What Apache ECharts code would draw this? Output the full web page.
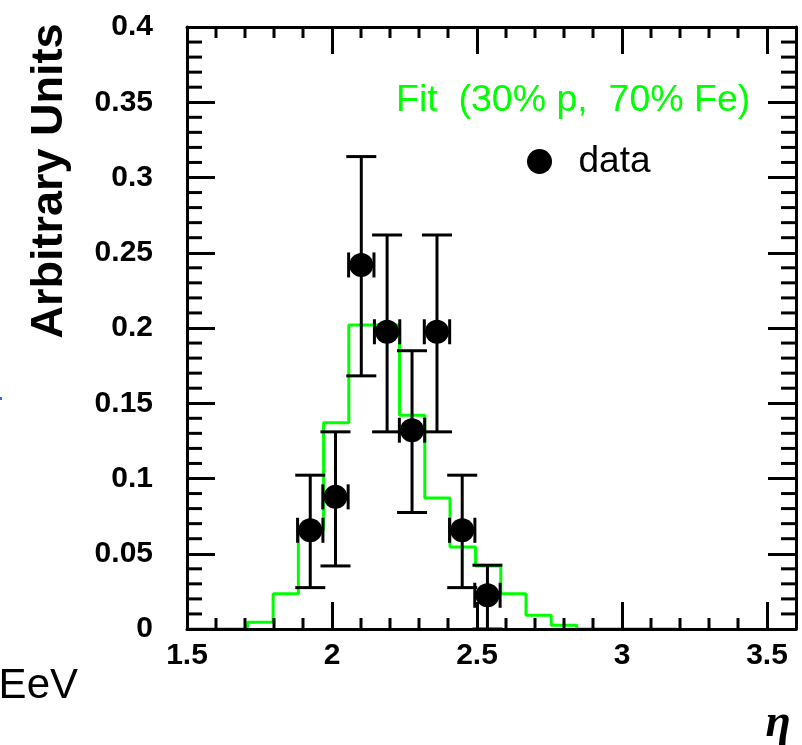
<!DOCTYPE html>
<html><head><meta charset="utf-8">
<script src="https://cdn.jsdelivr.net/npm/echarts@6/dist/echarts.min.js"></script>
<style>html,body{margin:0;padding:0;background:#fff}#c{width:802px;height:745px}</style>
</head><body><div id="c"></div>
<script>
// ---- data ----
const fitName = 'Fit  (30% p,  70% Fe)';
const dataName = 'data';
const yTitle = 'Arbitrary Units';
const xTitle = 'η';
const cornerNote = 'EeV';
// fit histogram: bin low edges (+ last high edge) and contents
const fitEdges = [1.709, 1.797, 1.884, 1.971, 2.058, 2.146, 2.233, 2.320, 2.407, 2.495, 2.582, 2.669, 2.756, 2.844];
const fitValues = [0.0045, 0.0235, 0.0656, 0.137, 0.202, 0.202, 0.1421, 0.0871, 0.0545, 0.0419, 0.0235, 0.0091, 0.0025];
const fitRange = [1.5, 3.19];
// data points with errors
const dataX = [1.925, 2.012, 2.101, 2.190, 2.276, 2.362, 2.449, 2.536];
const dataY = [0.0656, 0.0878, 0.2419, 0.1975, 0.1321, 0.1975, 0.0656, 0.0224];
const dataLow = [0.0275, 0.0419, 0.1682, 0.131, 0.0774, 0.131, 0.0275, 0];
const dataHigh = [0.1022, 0.131, 0.3139, 0.2618, 0.1849, 0.2618, 0.1022, 0.0424];
const dataXHalfWidth = 0.0437;
// axes
const xRange = [1.5, 3.6], xMajor = 0.5, xMinor = 0.1;
const yRange = [0, 0.4], yMajor = 0.05, yMinor = 0.01;

// ---- build ----
const fitPoints = [[fitRange[0], 0]];
for (let i = 0; i < fitValues.length; i++) fitPoints.push([fitEdges[i], fitValues[i]]);
fitPoints.push([fitEdges[fitEdges.length - 1], 0]);
fitPoints.push([fitRange[1], 0]);

const errData = dataX.map((x, i) => [x, dataY[i], dataLow[i], dataHigh[i]]);
const ptData = dataX.map((x, i) => [x, dataY[i]]);

// minor tick positions (axis decoration): [value, 0 = x-axis | 1 = y-axis]
const minorTickData = [];
for (let k = Math.round(xRange[0] / xMinor) + 1; k * xMinor < xRange[1] - 1e-9; k++) {
  if (k % 5 !== 0) minorTickData.push([+(k * xMinor).toFixed(2), 0]);
}
for (let k = 1; k * yMinor < yRange[1] - 1e-9; k++) {
  if (k % 5 !== 0) minorTickData.push([+(k * yMinor).toFixed(3), 1]);
}

const FONT = '"Liberation Sans", Arial, Helvetica, sans-serif';
const tickLabel = { color: '#000', fontFamily: FONT, fontWeight: 'bold', fontSize: 30 };
const black = { color: '#000', width: 3 };

function ax(position, range, step, len, label) {
  return {
    type: 'value', position: position, min: range[0], max: range[1], interval: step,
    axisLine: { show: true, onZero: false, lineStyle: black },
    axisTick: { show: true, inside: true, length: len, lineStyle: black },
    axisLabel: label ? label : { show: false },
    splitLine: { show: false }
  };
}

const chart = echarts.init(document.getElementById('c'), null, { renderer: 'canvas' });
chart.setOption({
  animation: false,
  backgroundColor: '#fff',
  grid: { left: 187, right: 6, top: 27, bottom: 116, containLabel: false, outerBoundsMode: 'none' },
  xAxis: [
    ax('bottom', xRange, xMajor, 27, Object.assign({ margin: 12, showMaxLabel: false }, tickLabel)),
    ax('top', xRange, xMajor, 27, null)
  ],
  yAxis: [
    ax('left', yRange, yMajor, 28, Object.assign({ margin: 34, padding: [0, 0, 7, 0] }, tickLabel)),
    ax('right', yRange, yMajor, 28, null)
  ],
  legend: [
    { data: [{ name: fitName, icon: 'none' }], left: 386, top: 77, itemWidth: 0, itemHeight: 20,
      selectedMode: false, textStyle: { color: '#00ff00', fontSize: 37.5, fontFamily: FONT } },
    { data: [{ name: dataName, icon: 'circle' }], left: 522, top: 138, itemWidth: 68, itemHeight: 25,
      selectedMode: false, textStyle: { color: '#000', fontSize: 37, fontFamily: FONT } }
  ],
  series: [
    { name: fitName, type: 'line', step: 'end', data: fitPoints, showSymbol: false, symbol: 'none',
      lineStyle: { color: '#00ff00', width: 3 }, itemStyle: { color: '#00ff00' }, z: -1, silent: true },
    { name: 'minorTicks', type: 'custom', data: minorTickData, z: 2, silent: true, clip: false,
      renderItem: function (params, api) {
        const v = api.value(0), kind = api.value(1);
        const st = { stroke: '#000', lineWidth: 3 };
        if (kind === 0) {
          const b = api.coord([v, yRange[0]]), t = api.coord([v, yRange[1]]);
          return { type: 'group', children: [
            { type: 'line', shape: { x1: b[0], y1: b[1], x2: b[0], y2: b[1] - 11 }, style: st },
            { type: 'line', shape: { x1: t[0], y1: t[1], x2: t[0], y2: t[1] + 11 }, style: st }
          ] };
        }
        const l = api.coord([xRange[0], v]), r = api.coord([xRange[1], v]);
        return { type: 'group', children: [
          { type: 'line', shape: { x1: l[0], y1: l[1], x2: l[0] + 15, y2: l[1] }, style: st },
          { type: 'line', shape: { x1: r[0], y1: r[1], x2: r[0] - 15, y2: r[1] }, style: st }
        ] };
      }
    },
    { name: 'errors', type: 'custom', data: errData, encode: { x: 0, y: [1, 2, 3] }, z: 3, silent: true,
      renderItem: function (params, api) {
        const x = api.value(0), y = api.value(1), lo = api.value(2), hi = api.value(3);
        const pLo = api.coord([x, lo]), pHi = api.coord([x, hi]);
        const pL = api.coord([x - dataXHalfWidth, y]), pR = api.coord([x + dataXHalfWidth, y]);
        const cap = 15, tk = 12.5;
        const st = { stroke: '#000', lineWidth: 3 };
        return { type: 'group', children: [
          { type: 'line', shape: { x1: pLo[0], y1: pLo[1], x2: pHi[0], y2: pHi[1] }, style: st },
          { type: 'line', shape: { x1: pHi[0] - cap, y1: pHi[1], x2: pHi[0] + cap, y2: pHi[1] }, style: st },
          { type: 'line', shape: { x1: pLo[0] - cap, y1: pLo[1], x2: pLo[0] + cap, y2: pLo[1] }, style: st },
          { type: 'line', shape: { x1: pL[0], y1: pL[1], x2: pR[0], y2: pR[1] }, style: st },
          { type: 'line', shape: { x1: pL[0], y1: pL[1] - tk, x2: pL[0], y2: pL[1] + tk }, style: st },
          { type: 'line', shape: { x1: pR[0], y1: pR[1] - tk, x2: pR[0], y2: pR[1] + tk }, style: st }
        ] };
      }
    },
    { name: dataName, type: 'scatter', data: ptData, symbol: 'circle', symbolSize: 24,
      itemStyle: { color: '#000', opacity: 1 }, z: 4, silent: true }
  ],
  graphic: [
    { type: 'text', x: 50, y: 181, rotation: Math.PI / 2,
      style: { text: yTitle, font: 'bold 45px ' + FONT, fill: '#000', align: 'center', verticalAlign: 'middle' } },
    { type: 'text', x: 778, y: 724,
      style: { text: xTitle, font: 'italic bold 46px "Liberation Serif", "DejaVu Serif", serif', fill: '#000', align: 'center', verticalAlign: 'middle' } },
    { type: 'text', x: 78, y: 686,
      style: { text: cornerNote, font: '42px ' + FONT, fill: '#000', align: 'right', verticalAlign: 'middle' } },
    { type: 'rect', shape: { x: 0, y: 397, width: 2, height: 3 }, style: { fill: '#3366ff' } }
  ]
});
</script></body></html>
